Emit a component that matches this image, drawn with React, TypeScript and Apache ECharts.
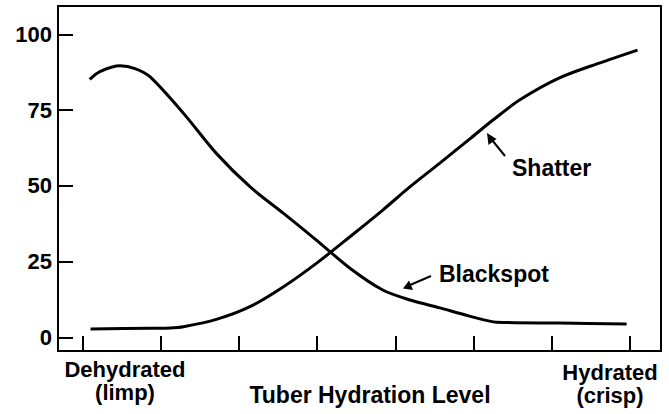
import React, { useEffect, useRef } from "react";
import * as echarts from "echarts";

// Hydration level (x, tick units 0..7) and percentage (y)
const blackspotX = [0.09, 0.22, 0.48, 0.67, 0.86, 1.29, 1.71, 2.14, 2.57, 2.99, 3.42, 3.84, 4.19, 4.57, 4.95, 5.3, 6.1, 6.96];
const blackspotY = [85.1, 87.7, 89.6, 88.7, 86.0, 73.9, 60.7, 49.7, 40.9, 32.1, 22.8, 15.6, 12.3, 9.7, 7.0, 5.0, 4.7, 4.4];
const shatterX = [0.1, 0.86, 1.12, 1.29, 1.71, 2.14, 2.57, 2.99, 3.42, 3.84, 4.19, 4.57, 4.95, 5.25, 5.59, 6.1, 6.61, 7.1];
const shatterY = [2.7, 3.0, 3.1, 3.5, 5.9, 10.1, 16.7, 24.4, 33.2, 42.0, 49.7, 57.5, 65.4, 71.7, 78.3, 85.6, 90.5, 94.8];
const yTicks = [0, 25, 50, 75, 100];
const xTicks = [0, 1, 2, 3, 4, 5, 6, 7];
const xAxisTitle = "Tuber Hydration Level";
const leftLabel = "Dehydrated\n(limp)";
const rightLabel = "Hydrated\n(crisp)";
const shatterName = "Shatter";
const blackspotName = "Blackspot";

const FONT = '"Liberation Sans", Arial, Helvetica, sans-serif';
const X_MIN = -0.316;
const X_MAX = 7.4;
const Y_MIN = -4.52;
const Y_MAX = 109.34;

export default function App() {
  const ref = useRef<HTMLDivElement>(null);
  useEffect(() => {
    document.body.style.margin = "0";
    if (!ref.current) return;
    const chart = echarts.init(ref.current, null, { renderer: "svg" });
    const zip = (xs: number[], ys: number[]) => xs.map((x, i) => [x, ys[i]]);
    const textStyle = { fontFamily: FONT, fontWeight: "bold", fontSize: 23, fill: "#000" };
    const frameLine = { show: true, onZero: false, lineStyle: { color: "#000", width: 2 } };
    chart.setOption({
      animation: false,
      backgroundColor: "#fff",
      grid: { left: 58, right: 8, top: 6, bottom: 63, outerBoundsMode: "none" },
      xAxis: [
        {
          type: "value", position: "bottom", min: X_MIN, max: X_MAX,
          axisLine: frameLine,
          splitLine: { show: false },
          axisTick: {
            show: true, inside: true, length: 15,
            customValues: xTicks,
            lineStyle: { color: "#000", width: 2 },
          },
          axisLabel: { show: false },
        },
        {
          type: "value", position: "top", min: X_MIN, max: X_MAX,
          axisLine: frameLine,
          splitLine: { show: false },
          axisTick: { show: false },
          axisLabel: { show: false },
        },
      ],
      yAxis: [
        {
          type: "value", position: "left", min: Y_MIN, max: Y_MAX,
          axisLine: frameLine,
          splitLine: { show: false },
          axisTick: {
            show: true, inside: true, length: 15,
            customValues: yTicks,
            lineStyle: { color: "#000", width: 2 },
          },
          axisLabel: {
            customValues: yTicks,
            margin: 6,
            color: "#000",
            fontFamily: FONT,
            fontWeight: "bold",
            fontSize: 22,
          },
        },
        {
          type: "value", position: "right", min: Y_MIN, max: Y_MAX,
          axisLine: frameLine,
          splitLine: { show: false },
          axisTick: { show: false },
          axisLabel: { show: false },
        },
      ],
      series: [
        {
          name: blackspotName,
          type: "line",
          data: zip(blackspotX, blackspotY),
          smooth: 0.3,
          showSymbol: false,
          lineStyle: { color: "#000", width: 3 },
        },
        {
          name: shatterName,
          type: "line",
          data: zip(shatterX, shatterY),
          smooth: 0.3,
          showSymbol: false,
          lineStyle: { color: "#000", width: 3 },
        },
      ],
      graphic: [
        { type: "text", x: 125, y: 358, style: { ...textStyle, fontSize: 22, text: leftLabel, align: "center", lineHeight: 23 } },
        { type: "text", x: 610, y: 361, style: { ...textStyle, fontSize: 22, text: rightLabel, align: "center", lineHeight: 23 } },
        { type: "text", x: 370, y: 395, style: { ...textStyle, text: xAxisTitle, align: "center", verticalAlign: "middle" } },
        { type: "text", x: 512, y: 168, style: { ...textStyle, text: shatterName, verticalAlign: "middle" } },
        { type: "text", x: 439, y: 274, style: { ...textStyle, text: blackspotName, verticalAlign: "middle" } },
        { type: "line", shape: { x1: 505, y1: 156, x2: 492, y2: 140 }, style: { stroke: "#000", lineWidth: 2 } },
        { type: "polygon", shape: { points: [[487, 133], [488.5, 145], [496.5, 139]] }, style: { fill: "#000" } },
        { type: "line", shape: { x1: 431, y1: 276, x2: 410, y2: 285 }, style: { stroke: "#000", lineWidth: 2 } },
        { type: "polygon", shape: { points: [[403, 288.5], [409, 280.5], [413, 290]] }, style: { fill: "#000" } },
      ],
    });
    return () => chart.dispose();
  }, []);
  return <div ref={ref} style={{ width: 669, height: 414 }} />;
}
